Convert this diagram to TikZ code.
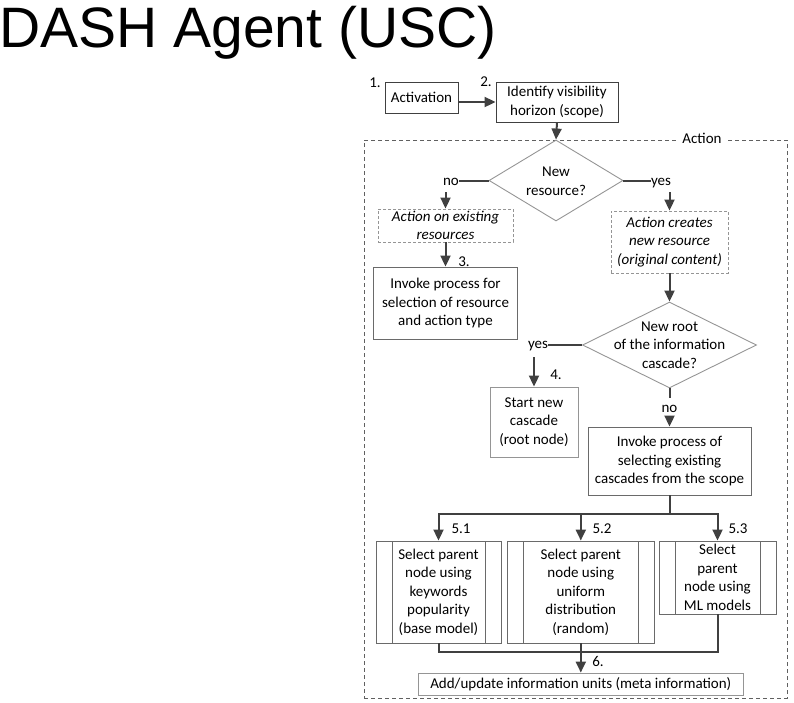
\documentclass[tikz,border=0pt]{standalone}
\usepackage{fontspec}
\setmainfont{Carlito}
\newfontfamily\titlefont{Liberation Sans}
\usetikzlibrary{arrows.meta,shapes.geometric}
\definecolor{conn}{HTML}{404040}
\definecolor{boxdark}{HTML}{404040}
\definecolor{boxmid}{HTML}{6A6A6A}
\definecolor{boxlight}{HTML}{959595}
\definecolor{framec}{HTML}{606060}
\begin{document}
\begin{tikzpicture}[x=1pt,y=-1pt,
  every node/.style={font=\fontsize{15}{18.5}\selectfont, text=black, inner sep=0pt},
  box/.style={draw=#1, line width=0.9pt, rectangle, align=center},
  box/.default=boxmid,
  dbox/.style={draw=boxlight, line width=0.9pt, dash pattern=on 3pt off 2pt, rectangle, align=center, font=\fontsize{15}{18.5}\selectfont\itshape},
  dia/.style={draw=boxlight, line width=0.9pt, diamond, inner sep=0pt},
  sub/.style={box=boxmid, path picture={
      \draw[boxmid, line width=0.9pt] ([xshift=16pt]path picture bounding box.north west) -- ([xshift=16pt]path picture bounding box.south west);
      \draw[boxmid, line width=0.9pt] ([xshift=-16pt]path picture bounding box.north east) -- ([xshift=-16pt]path picture bounding box.south east);}},
  lbl/.style={text height=10pt, text depth=3pt},
  ln/.style={draw=conn, line width=2pt},
  arr/.style={draw=conn, line width=2pt, -{Triangle[width=10pt,length=11pt]}}
]
\useasboundingbox (0,0) rectangle (794,702);

% title
\node[font=\titlefont\fontsize{57}{60}\selectfont, anchor=base west] (title) at (-1,47) {DASH Agent (USC)};

% dashed action frame
\node[draw=framec, line width=0.8pt, dash pattern=on 4pt off 3pt, minimum width=423pt, minimum height=558pt] (frame) at (575.5,419) {};
\node[fill=white, inner xsep=6pt, inner ysep=2pt, lbl] (actlbl) at (702,140) {Action};

% top boxes
\node[box=boxdark, minimum width=73pt, minimum height=31pt] (act) at (421.5,97.5) {Activation};
\node[box=boxdark, minimum width=122pt, minimum height=40pt] (ident) at (557,102) {Identify visibility\\horizon (scope)};
\node[lbl] (n1) at (375,84) {1.};
\node[lbl] (n2) at (486,83) {2.};

% decision 1
\node[dia, minimum width=134pt, minimum height=81pt] (d1) at (556,180.5) {};
\node[align=center] (d1t) at (556,181) {New\\resource?};
\node[lbl] (noL) at (451,182) {no};
\node[lbl] (yesL) at (661,182) {yes};

\node[dbox, minimum width=135pt, minimum height=33pt] (ex) at (445.5,225.5) {Action on existing\\resources};
\node[dbox, minimum width=117pt, minimum height=62pt] (cr) at (669.5,242) {Action creates\\new resource\\(original content)};

\node[box=boxmid, minimum width=144pt, minimum height=72pt] (p3) at (445.5,303) {Invoke process for\\selection of resource\\and action type};
\node[lbl] (n3) at (464,263) {3.};

% decision 2
\node[dia, minimum width=174pt, minimum height=86pt] (d2) at (669.5,345) {};
\node[align=center] (d2t) at (669.5,345) {New root\\of the information\\cascade?};
\node[lbl] (yes2) at (538,345) {yes};
\node[lbl] (no2) at (669.5,409) {no};

\node[box=boxlight, minimum width=88pt, minimum height=70pt] (p4) at (534,422) {Start new\\cascade\\(root node)};
\node[lbl] (n4) at (556,376) {4.};

\node[box=boxmid, minimum width=163pt, minimum height=68pt] (p5) at (669.5,461) {Invoke process of\\selecting existing\\cascades from the scope};

% sub-processes
\node[sub, minimum width=125pt, minimum height=102pt] (s51) at (438.5,592) {Select parent\\node using\\keywords\\popularity\\(base model)};
\node[sub, minimum width=147pt, minimum height=102pt] (s52) at (580.8,592) {Select parent\\node using\\uniform\\distribution\\(random)};
\node[sub, minimum width=117pt, minimum height=73pt] (s53) at (717.5,577.5) {Select\\parent\\node using\\ML models};
\node[lbl] (n51) at (461,530) {5.1};
\node[lbl] (n52) at (602,530) {5.2};
\node[lbl] (n53) at (738,530) {5.3};

\node[box=boxlight, minimum width=325pt, minimum height=22pt] (p6) at (580.8,684) {Add/update information units (meta information)};
\node[lbl] (n6) at (598,663) {6.};

% coordinates
\coordinate (noA) at (445.5,192);
\coordinate (yesA) at (669.5,192);
\coordinate (yes2A) at (534,357);
\coordinate (no2top) at (669.5,398);
\coordinate (no2A) at (669.5,416);
\coordinate (j1) at (669.5,514);
\coordinate (j2) at (580.8,652);

% connectors
\draw[arr] (act.east |- ident.west) -- (ident.west);
\draw[arr] (ident.south) -- (d1.north);
\draw[ln] (d1.west) -- (d1.west -| noL.east);
\draw[ln] (d1.east) -- (d1.east -| yesL.west);
\draw[arr] (noA) -- (ex.north);
\draw[arr] (yesA) -- (cr.north);
\draw[arr] (ex.south) -- (p3.north);
\draw[arr] (cr.south) -- (d2.north);
\draw[ln] (d2.west) -- (d2.west -| yes2.east);
\draw[arr] (yes2A) -- (p4.north);
\draw[ln] (d2.south) -- (no2top);
\draw[arr] (no2A) -- (p5.north);
\draw[ln] (p5.south) -- (j1);
\draw[arr] (j1) -| (s51.north);
\draw[arr] (j1) -| (s53.north);
\draw[arr] (s52.north |- j1) -- (s52.north);
\draw[ln] (s51.south) |- (j2);
\draw[ln] (s53.south) |- (j2);
\draw[arr] (s52.south) -- (p6.north);
\end{tikzpicture}
\end{document}
